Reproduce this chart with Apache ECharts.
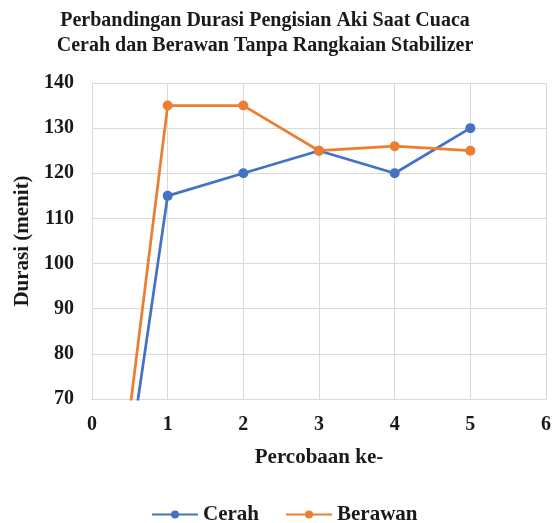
<!DOCTYPE html>
<html><head><meta charset="utf-8">
<script src="https://cdn.jsdelivr.net/npm/echarts@6/dist/echarts.min.js"></script>
<style>html,body{margin:0;padding:0;background:#fff}#c{width:558px;height:523px}</style>
</head><body><div id="c"></div>
<script>
const percobaan = [0, 1, 2, 3, 4, 5];
const cerah = [0, 115, 120, 125, 120, 130];
const berawan = [0, 135, 135, 125, 126, 125];
const seriesNames = ['Cerah', 'Berawan'];
const colors = ['#4472C4', '#ED7D31'];

const font = 'Liberation Serif, Times New Roman, serif';
const chart = echarts.init(document.getElementById('c'));
const mk = (arr) => percobaan.map((x, i) => [x, arr[i]]);
chart.setOption({
  animation: false,
  title: {
    text: 'Perbandingan Durasi Pengisian Aki Saat Cuaca\nCerah dan Berawan Tanpa Rangkaian Stabilizer',
    left: 260, top: 3, textAlign: 'center',
    textStyle: {fontFamily: font, fontWeight: 'bold', fontSize: 20, color: '#1a1a1a', lineHeight: 25}
  },
  legend: {
    top: 499, left: 146, itemWidth: 46, itemHeight: 10, itemGap: 26,
    textStyle: {fontFamily: font, fontWeight: 'bold', fontSize: 21, color: '#1a1a1a'},
    data: seriesNames
  },
  grid: {left: 92, right: 12, top: 83, bottom: 124},
  xAxis: {
    type: 'value', min: 0, max: 6, interval: 1,
    name: 'Percobaan ke-', nameLocation: 'middle', nameGap: 48,
    nameTextStyle: {fontFamily: font, fontWeight: 'bold', fontSize: 21, color: '#1a1a1a'},
    axisLine: {show: true, lineStyle: {color: '#d9d9d9'}},
    axisTick: {show: false},
    axisLabel: {fontFamily: font, fontWeight: 'bold', fontSize: 20, color: '#1a1a1a', margin: 16},
    splitLine: {show: true, lineStyle: {color: '#d9d9d9', width: 1}}
  },
  yAxis: {
    type: 'value', min: 70, max: 140, interval: 10,
    name: 'Durasi (menit)', nameLocation: 'middle', nameGap: 57,
    nameTextStyle: {fontFamily: font, fontWeight: 'bold', fontSize: 21, color: '#1a1a1a'},
    axisLine: {show: true, lineStyle: {color: '#d9d9d9'}},
    axisTick: {show: false},
    axisLabel: {fontFamily: font, fontWeight: 'bold', fontSize: 20, color: '#1a1a1a', margin: 18},
    splitLine: {show: true, lineStyle: {color: '#d9d9d9', width: 1}}
  },
  series: [
    {name: seriesNames[0], type: 'line', data: mk(cerah), clip: true, symbol: 'circle', symbolSize: 10,
     color: colors[0], lineStyle: {width: 2.75, color: colors[0]}, itemStyle: {color: colors[0]}},
    {name: seriesNames[1], type: 'line', data: mk(berawan), clip: true, symbol: 'circle', symbolSize: 10,
     color: colors[1], lineStyle: {width: 2.75, color: colors[1]}, itemStyle: {color: colors[1]}}
  ]
});
</script></body></html>
